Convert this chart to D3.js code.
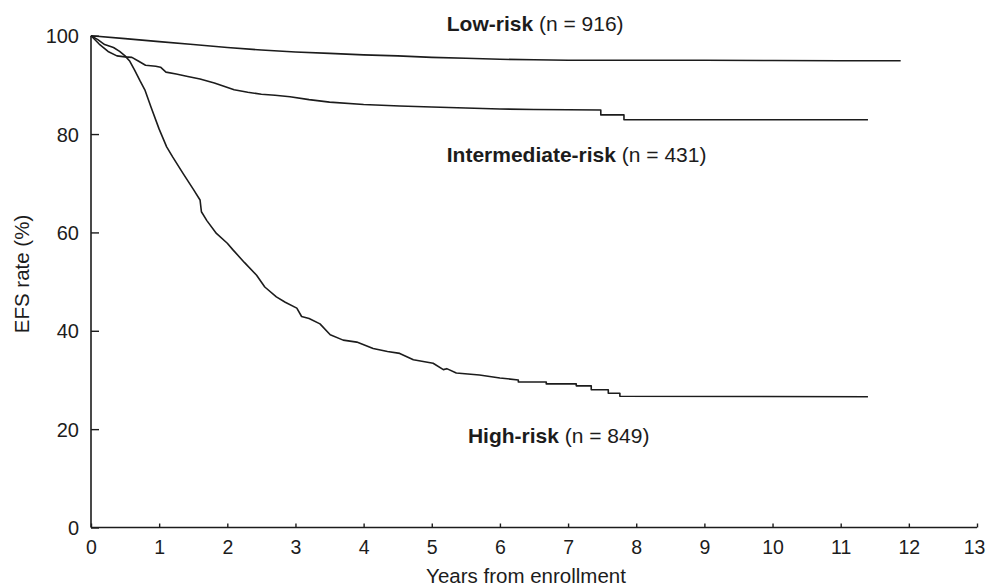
<!DOCTYPE html>
<html>
<head>
<meta charset="utf-8">
<script src="https://cdn.jsdelivr.net/npm/d3@7"></script>
<style>
  html, body { margin: 0; padding: 0; background: #fff; }
  svg { display: block; font-family: "Liberation Sans", Arial, Helvetica, sans-serif; }
</style>
</head>
<body>
<svg id="chart" width="987" height="588"></svg>
<script>
// ---- Data (years from enrollment, EFS %) ----
const xTicks = [0,1,2,3,4,5,6,7,8,9,10,11,12,13];
const yTicks = [0,20,40,60,80,100];

const lowRisk = [
  [0,100],[0.5,99.4],[1,98.8],[1.5,98.2],[2,97.6],[2.5,97.1],[3,96.7],[3.5,96.4],
  [4,96.1],[4.5,95.9],[5,95.6],[5.5,95.4],[6,95.2],[6.5,95.1],[7,95.0],[8,95.0],
  [9,95.0],[10,94.95],[11,94.9],[11.88,94.9]
];
const intermediateRisk = [
  [0,100],[0.12,98.3],[0.25,96.8],[0.38,95.9],[0.5,95.7],[0.6,95.6],[0.7,94.8],[0.8,94.0],
  [0.95,93.8],[1.02,93.6],[1.1,92.6],[1.25,92.2],[1.42,91.7],[1.6,91.2],[1.81,90.4],
  [1.95,89.7],[2.1,89.0],[2.3,88.5],[2.5,88.1],[2.7,87.9],[2.92,87.6],[3.2,87.0],[3.5,86.5],
  [4,86.0],[4.53,85.7],[5,85.5],[5.5,85.3],[6,85.1],[6.5,85.0],[7,84.95],[7.48,84.9],
  [7.48,83.9],[7.82,83.9],[7.82,82.9],[11.4,82.9]
];
const highRisk = [
  [0,100],[0.1,99.2],[0.2,98.2],[0.33,97.6],[0.42,96.8],[0.5,95.9],[0.57,94.8],[0.64,93.0],
  [0.72,90.8],[0.79,89.0],[0.88,85.5],[1.0,81.0],[1.11,77.4],[1.2,75.3],[1.35,72.0],[1.5,68.8],
  [1.6,66.6],[1.62,64.2],[1.7,62.4],[1.84,59.8],[2.0,57.8],[2.08,56.5],[2.25,53.9],[2.43,51.3],
  [2.55,48.9],[2.72,46.9],[2.85,45.8],[3.02,44.6],[3.09,42.9],[3.2,42.5],[3.36,41.4],[3.51,39.2],
  [3.7,38.1],[3.9,37.7],[4.14,36.4],[4.35,35.8],[4.53,35.4],[4.73,34.1],[5.02,33.4],[5.17,32.1],
  [5.22,32.3],[5.36,31.4],[5.7,31.0],[6.0,30.4],[6.27,30.0],[6.27,29.6],[6.68,29.6],[6.68,29.2],
  [7.12,29.2],[7.12,28.8],[7.34,28.8],[7.34,28.0],[7.59,28.0],[7.59,27.3],[7.76,27.3],[7.76,26.7],
  [11.4,26.6]
];
const seriesNames = ["Low-risk", "Intermediate-risk", "High-risk"];
const seriesN = ["(n = 916)", "(n = 431)", "(n = 849)"];
// label anchor positions in data units (x years, y %)
const labelX = [5.22, 5.22, 5.53];
const labelY = [100.9, 74.4, 17.1];

// ---- Layout ----
const svg = d3.select("#chart");
const x = d3.scaleLinear().domain([0,13]).range([91, 977]);
const y = d3.scaleLinear().domain([0,100]).range([527.5, 35.7]);
const ink = "#1c1c1c";

// Y axis
const yAxis = svg.append("g").attr("transform", `translate(${x(0)},0)`)
  .call(d3.axisRight(y).tickValues(yTicks).tickSize(8).tickFormat(d3.format("d")));
yAxis.select(".domain").attr("d", `M0,${y(0)}V${y(100)}`).attr("stroke", ink).attr("stroke-width", 1.6);
yAxis.selectAll(".tick line").attr("stroke", ink).attr("stroke-width", 1.4);
yAxis.selectAll(".tick text")
  .attr("x", -12).attr("text-anchor", "end").attr("dy", "0.36em")
  .attr("font-size", 20).attr("fill", ink)
  .style("font-family", "'Liberation Sans', Arial, sans-serif");

// X axis
const xAxis = svg.append("g").attr("transform", `translate(0,${y(0)})`)
  .call(d3.axisTop(x).tickValues(xTicks).tickSize(4).tickFormat(d3.format("d")));
xAxis.select(".domain").attr("d", `M${x(0)},0H${x(13)}`).attr("stroke", ink).attr("stroke-width", 1.6);
xAxis.selectAll(".tick line").attr("stroke", ink).attr("stroke-width", 1.4);
xAxis.selectAll(".tick text")
  .attr("y", 26).attr("dy", 0).attr("text-anchor", "middle")
  .attr("font-size", 19.5).attr("fill", ink)
  .attr("dx", d => d === 13 ? -3 : 0)
  .style("font-family", "'Liberation Sans', Arial, sans-serif");

// Axis titles
svg.append("text")
  .attr("x", 526).attr("y", 583)
  .attr("text-anchor", "middle").attr("font-size", 20.5).attr("fill", ink)
  .text("Years from enrollment");
svg.append("text")
  .attr("transform", `translate(28.5,274) rotate(-90)`)
  .attr("text-anchor", "middle").attr("font-size", 20.5).attr("fill", ink)
  .text("EFS rate (%)");

// Curves
const line = d3.line().x(d => x(d[0])).y(d => y(d[1])).curve(d3.curveLinear);
[lowRisk, intermediateRisk, highRisk].forEach(s => {
  svg.append("path").datum(s)
    .attr("d", line)
    .attr("fill", "none").attr("stroke", ink).attr("stroke-width", 1.6)
    .attr("stroke-linejoin", "round");
});

// Labels
seriesNames.forEach((name, i) => {
  const t = svg.append("text")
    .attr("x", x(labelX[i])).attr("y", y(labelY[i]))
    .attr("font-size", 21).attr("fill", ink);
  t.append("tspan").attr("font-weight", "bold").text(name);
  t.append("tspan").text(" " + seriesN[i]);
});
</script>
</body>
</html>
